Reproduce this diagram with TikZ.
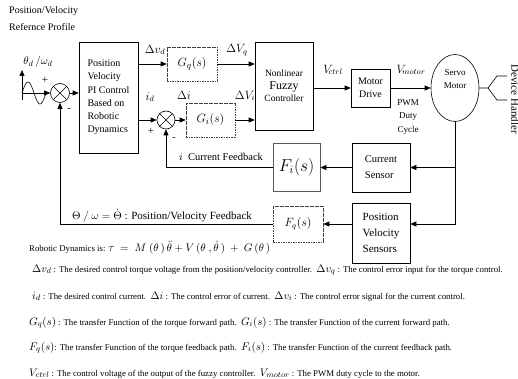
\documentclass[tikz,border=0pt]{standalone}
\usepackage{fontspec}
\setmainfont{Liberation Serif}
\usetikzlibrary{arrows.meta,shapes.geometric}
\newcommand\legm[1]{{\fontsize{11}{12}\selectfont$#1$}}
\begin{document}
\begin{tikzpicture}[x=1pt,y=-1pt,
  blk/.style={draw, line width=0.6pt, inner sep=0pt, align=center},
  dblk/.style={blk, draw=black!75, dash pattern=on 1.6pt off 0.9pt},
  arr/.style={-{Triangle[length=6pt,width=5pt]}, line width=0.6pt},
  ln/.style={line width=0.6pt},
  sumj/.style={draw, circle, line width=0.6pt, minimum size=19pt, inner sep=0pt,
    path picture={\draw[line width=0.6pt] (path picture bounding box.north west) -- (path picture bounding box.south east)
      (path picture bounding box.south west) -- (path picture bounding box.north east);}},
  lbl/.style={inner sep=0pt},
  leg/.style={anchor=base west, inner sep=0pt, font=\fontsize{8.8}{10}\selectfont}]
\useasboundingbox[fill=white] (0,0) rectangle (518,379);

% header
\node[lbl, anchor=north west, align=left, font=\fontsize{10}{17}\selectfont] (hdr) at (9,6) {Position/Velocity\\Refernce Profile};
\node[lbl, font=\fontsize{11}{12}\selectfont] (thd) at (38,62) {$\theta_{d}\,/\omega_{d}$};

% blocks
\node[sumj] (s1) at (60,93) {};
\node[blk, minimum width=59pt, minimum height=111pt, font=\fontsize{10}{13.2}\selectfont, align=left] (pi) at (108.5,97.5)
  {Position\\Velocity\\PI Control\\Based on\\Robotic\\Dynamics};
\node[dblk, minimum width=50pt, minimum height=34pt, font=\fontsize{13}{14}\selectfont] (gq) at (192,64) {$G_q(s)$};
\node[sumj, minimum size=18pt] (s2) at (166,120) {};
\node[dblk, minimum width=49pt, minimum height=34pt, font=\fontsize{13}{14}\selectfont] (gi) at (210.5,120) {$G_i(s)$};
\node[blk, minimum width=58pt, minimum height=88pt, font=\fontsize{9.5}{12.5}\selectfont] (fz) at (284,86)
  {Nonlinear\\{\fontsize{12}{12.5}\selectfont Fuzzy}\\Controller};
\node[blk, minimum width=39pt, minimum height=38pt, font=\fontsize{10}{13}\selectfont] (md) at (370.5,88) {Motor\\Drive};
\node[draw, ellipse, line width=0.6pt, minimum width=48pt, minimum height=67pt, inner sep=0pt, align=center,
  font=\fontsize{9}{12.5}\selectfont] (sm) at (455,88) {Servo\\Motor\\[5pt]};
\node[blk, minimum width=58pt, minimum height=49pt, font=\fontsize{10.5}{16}\selectfont, align=left] (cs) at (381,167.5) {Current\\Sensor};
\node[blk, draw=black!65, line width=0.8pt, minimum width=47pt, minimum height=48pt, font=\fontsize{16}{17}\selectfont] (fi) at (296.5,167) {$F_i(s)$};
\node[blk, minimum width=58pt, minimum height=60pt, font=\fontsize{11}{16}\selectfont, align=left] (ps) at (381,233) {Position\\Velocity\\Sensors};
\node[dblk, minimum width=50pt, minimum height=36pt, font=\fontsize{12}{13}\selectfont] (fq) at (298,224) {$F_q(s)$};

% sine input
\coordinate (org) at (22,93);
\coordinate (ybot) at (22,100);
\coordinate (ytop) at (22,70);
\draw[ln] plot[domain=0:360, samples=40] ({22+\x/360*24}, {93-11*sin(\x)});
\draw[arr] (ybot) -- (ytop);
\draw[arr] (org) -- (s1.west);
\node[lbl, font=\fontsize{11}{12}\selectfont] (p1) at (45,80) {+};
\node[lbl, font=\fontsize{10}{12}\selectfont] (m1) at (69,110) {-};

% forward paths
\draw[arr] (s1.east) -- (s1.east -| pi.west);
\draw[arr] (pi.east |- gq.west) -- (gq.west);
\draw[arr] (gq.east) -- (gq.east -| fz.west);
\draw[arr] (pi.east |- s2.west) -- (s2.west);
\draw[arr] (s2.east) -- (gi.west);
\draw[arr] (gi.east) -- (gi.east -| fz.west);
\draw[arr] (fz.east |- md.west) -- (md.west);
\draw[arr] (md.east) -- (md.east -| sm.west);
\node[lbl, font=\fontsize{11}{12}\selectfont] (p2) at (151,131) {+};
\node[lbl, font=\fontsize{10}{12}\selectfont] (m2) at (174,139) {-};

% labels on forward paths
\node[lbl, font=\fontsize{12}{13}\selectfont] (ldv) at (155,50) {$\Delta v_{d}$};
\node[lbl, font=\fontsize{12}{13}\selectfont] (ldq) at (237,50) {$\Delta V_{q}$};
\node[lbl, font=\fontsize{12}{13}\selectfont] (lid) at (150,97) {$i_{d}$};
\node[lbl, font=\fontsize{12}{13}\selectfont] (ldi) at (184,95) {$\Delta i$};
\node[lbl, font=\fontsize{12}{13}\selectfont] (ldvi) at (245,96) {$\Delta V_{i}$};
\node[lbl, font=\fontsize{12}{13}\selectfont] (lvc) at (333,70) {$V_{\!ctrl}$};
\node[lbl, font=\fontsize{12}{13}\selectfont] (lvm) at (411,70) {$V_{\!motor}$};
\node[lbl, align=center, font=\fontsize{9}{13.5}\selectfont] (pwm) at (408,117) {PWM\\Duty\\Cycle};

% device handler
\coordinate (fk) at (488,88);
\coordinate (fu) at (497,76);
\coordinate (fu2) at (507,76);
\coordinate (fl) at (497,100);
\coordinate (fl2) at (507,100);
\draw[ln] (sm.east) -- (fk) -- (fu) -- (fu2) (fk) -- (fl) -- (fl2);
\node[lbl, rotate=-90, anchor=south, font=\fontsize{11}{12}\selectfont] (dh) at (511,99) {Device Handler};

% sensing
\draw[ln] (sm.south) -- (sm.south |- cs.east);
\draw[arr] (sm.south |- cs.east) -- (cs.east);
\draw[arr] (sm.south |- cs.east) -- (sm.south |- fq.east) -- (ps.east |- fq.east);
\draw[arr] (cs.west) -- (cs.west -| fi.east);
\draw[arr] (ps.west |- fq.east) -- (fq.east);

% feedback
\draw[arr] (fi.west) -- (fi.west -| s2.south) -- (s2.south);
\draw[arr] (fq.west) -- (fq.west -| s1.south) -- (s1.south);
\node[lbl, font=\fontsize{10.5}{12}\selectfont] (lcf) at (221,157) {$i$\ \ Current Feedback};
\node[lbl, font=\fontsize{11}{12}\selectfont] (lpf) at (162,216) {$\Theta\ /\ \omega = \dot{\Theta}$\ : Position/Velocity Feedback};

% legend
\node[leg] (g1) at (29,251) {Robotic Dynamics is: \legm{\tau\ =\ M\ (\theta\,)\,\ddot\theta + V\,(\theta\ ,\dot\theta\,)\ +\ G\,(\theta\,)}};
\node[leg] (g2) at (32,272) {\legm{\Delta v_{d}} : The desired control torque voltage from the position/velocity controller.\ \ \legm{\Delta v_{q}} : The control error input for the torque control.};
\node[leg] (g3) at (32,299) {\legm{i_{d}} : The desired control current.\ \ \legm{\Delta i} : The control error of current.\ \ \legm{\Delta v_{i}} : The control error signal for the current control.};
\node[leg] (g4) at (29,325) {\legm{G_{q}(s)} : The transfer Function of the torque forward path.\ \ \legm{G_{i}(s)} : The transfer Function of the current forward path.};
\node[leg] (g5) at (29,350) {\legm{F_{q}(s)}: The transfer Function of the torque feedback path.\ \ \legm{F_{i}(s)} : The transfer Function of the current feedback path.};
\node[leg] (g6) at (29,376) {\legm{V_{ctrl}} : The control voltage of the output of the fuzzy controller.\ \ \legm{V_{motor}} : The PWM duty cycle to the motor.};
\end{tikzpicture}
\end{document}
